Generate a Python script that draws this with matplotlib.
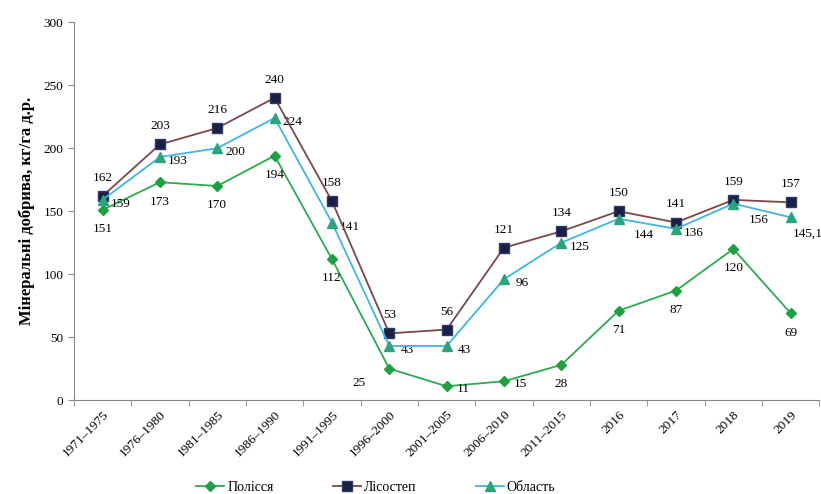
import matplotlib
matplotlib.use('Agg')
import matplotlib.pyplot as plt

plt.rcParams['font.family'] = ['Liberation Serif', 'DejaVu Serif']

periods = ['1971–1975', '1976–1980', '1981–1985', '1986–1990', '1991–1995',
           '1996–2000', '2001–2005', '2006–2010', '2011–2015', '2016', '2017',
           '2018', '2019']
polissia = [151, 173, 170, 194, 112, 25, 11, 15, 28, 71, 87, 120, 69]
lisostep = [162, 203, 216, 240, 158, 53, 56, 121, 134, 150, 141, 159, 157]
oblast = [159, 193, 200, 224, 141, 43, 43, 96, 125, 144, 136, 156, 145.1]

# label placement (offset in points)
pol_off = [(0, -14)] * 5 + [(-22, -10), (12, -2), (12, -2)] + [(0, -14)] * 5
obl_off = [(13, -3)] * 9 + [(18, -12), (13, -3), (18, -12), (12, -12)]

def fmt(v):
    return ('%g' % v).replace('.', ',')

fig = plt.figure(figsize=(8.21, 4.94), dpi=100)
ax = fig.add_axes([0.090, 0.190, 0.908, 0.765])
x = list(range(len(periods)))

ax.plot(x, polissia, color='#2bab4f', lw=1.3, marker='D', ms=5,
        mfc='#1fa043', mec='#1fa043', label='Полісся', zorder=3)
ax.plot(x, lisostep, color='#7a4848', lw=1.3, marker='s', ms=7,
        mfc='#1c1f45', mec='#2f3a6a', label='Лісостеп', zorder=4)
ax.plot(x, oblast, color='#3fb6e0', lw=1.3, marker='^', ms=7,
        mfc='#2ba37c', mec='#2ba37c', label='Область', zorder=5)

for i, v in enumerate(polissia):
    ax.annotate(fmt(v), (i, v), xytext=pol_off[i], textcoords='offset points',
                ha='center', va='center', fontsize=9.5)
for i, v in enumerate(lisostep):
    ax.annotate(fmt(v), (i, v), xytext=(0, 13), textcoords='offset points',
                ha='center', va='center', fontsize=9.5)
for i, v in enumerate(oblast):
    ax.annotate(fmt(v), (i, v), xytext=obl_off[i], textcoords='offset points',
                ha='center', va='center', fontsize=9.5)

ax.set_xlim(-0.5, len(periods) - 0.5)
ax.set_ylim(0, 300)
ax.set_yticks(range(0, 301, 50))
ax.set_xticks(x)
ax.set_xticklabels(periods, rotation=45, ha='right', rotation_mode='anchor',
                   fontsize=9.5)
ax.set_xticks([i + 0.5 for i in range(-1, len(periods))], minor=True)
ax.tick_params(axis='x', which='major', length=0, pad=6)
ax.tick_params(axis='x', which='minor', length=4, color='#888888')
ax.tick_params(axis='y', labelsize=9.5, length=4, color='#888888')
for s in ['top', 'right']:
    ax.spines[s].set_visible(False)
for s in ['left', 'bottom']:
    ax.spines[s].set_color('#888888')

ax.set_ylabel('Мінеральні добрива, кг/га д.р.', fontsize=12,
              fontweight='bold', labelpad=6)

ax.legend(loc='upper center', bbox_to_anchor=(0.405, -0.18), ncol=3,
          frameon=False, fontsize=10, handlelength=2.0, columnspacing=4.3,
          handletextpad=0.2)

fig.savefig('out.png', dpi=100)
